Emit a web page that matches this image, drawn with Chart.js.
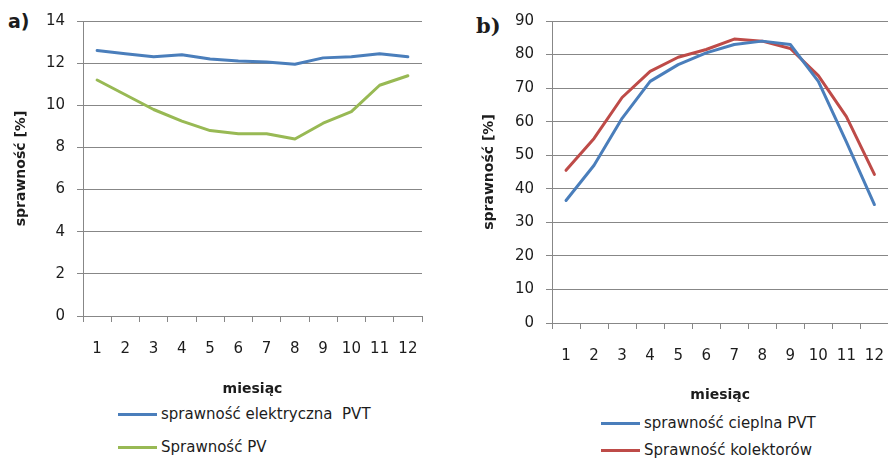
<!DOCTYPE html>
<html lang="pl">
<head>
<meta charset="utf-8">
<script src="https://cdn.jsdelivr.net/npm/chart.js@4.4.1/dist/chart.umd.min.js"></script>
<style>
  html, body { margin: 0; padding: 0; background: #fff; width: 888px; height: 460px; overflow: hidden; }
  body { position: relative; font-family: "DejaVu Sans", sans-serif; color: #1c1c1c; }
  canvas { position: absolute; top: 0; }
  #chartA { left: 0; }
  #chartB { left: 444px; }
  .panel { position: absolute; font-weight: bold; line-height: 1; }
  .leg { position: absolute; font-size: 15px; line-height: 18px; display: flex; align-items: center; white-space: pre; }
  .leg i { display: inline-block; width: 39px; height: 3px; margin-right: 4px; }
</style>
</head>
<body>
<div class="panel" style="left:8px;top:12px;font-size:19px;">a)</div>
<div class="panel" style="left:476px;top:15px;font-size:21px;font-family:'DejaVu Serif',serif;">b)</div>

<canvas id="chartA" width="444" height="398"></canvas>
<canvas id="chartB" width="458" height="404"></canvas>

<div class="leg" style="left:118px;top:405px;"><i style="background:#4a7ebb"></i>sprawność elektryczna  PVT</div>
<div class="leg" style="left:118px;top:438px;"><i style="background:#98b954"></i>Sprawność PV</div>
<div class="leg" style="left:601px;top:414px;"><i style="background:#4a7ebb"></i>sprawność cieplna PVT</div>
<div class="leg" style="left:601px;top:441px;"><i style="background:#be4b48"></i>Sprawność kolektorów</div>

<script>
// ==========================
//  Dane
// ==========================
const miesiace = ["1", "2", "3", "4", "5", "6", "7", "8", "9", "10", "11", "12"];

// a) sprawność elektryczna
const sprawnoscElektrycznaPVT = [12.6, 12.45, 12.3, 12.4, 12.2, 12.1, 12.05, 11.95, 12.25, 12.3, 12.45, 12.3];
const sprawnoscPV = [11.2, 10.5, 9.8, 9.25, 8.8, 8.65, 8.65, 8.4, 9.15, 9.7, 10.95, 11.4];
const osYA = [0, 14, 2]; // min, max, krok

// b) sprawność cieplna
const sprawnoscCieplnaPVT = [36.5, 47, 61, 72, 77, 80.5, 83, 84, 83, 72, 54, 35.3];
const sprawnoscKolektorow = [45.5, 55, 67.2, 75, 79.2, 81.5, 84.6, 84, 81.8, 73.7, 61.5, 44.3];
const osYB = [0, 90, 10];

const szary = "#878787";
const czcionka = "'DejaVu Sans', sans-serif";

// ==========================
//  Funkcja tworząca wykres
// ==========================
function rysujWykres(id, serie, os, geo) {
  const ctx = document.getElementById(id).getContext("2d");
  return new Chart(ctx, {
    type: "line",
    data: {
      labels: miesiace,
      datasets: serie.map((s) => ({
        label: s.nazwa,
        data: s.dane,
        borderColor: s.kolor,
        backgroundColor: s.kolor,
        borderWidth: 3,
        pointRadius: 0,
        tension: 0,
        borderJoinStyle: "round",
        borderCapStyle: "round",
      })),
    },
    options: {
      responsive: false,
      animation: false,
      layout: { padding: { top: geo.top, right: geo.right, left: 0, bottom: 0 } },
      plugins: { legend: { display: false }, tooltip: { enabled: false } },
      scales: {
        x: {
          offset: true,
          grid: { offset: true, drawOnChartArea: false, drawTicks: true, tickLength: 6, color: szary },
          border: { color: szary, width: 1 },
          ticks: { color: "#1c1c1c", padding: 18, maxRotation: 0, font: { family: czcionka, size: 15 } },
          title: {
            display: true,
            text: "miesiąc",
            color: "#1c1c1c",
            padding: { top: 0, bottom: 0 },
            font: { family: czcionka, size: 14, weight: "bold" },
          },
          afterFit: (scale) => { scale.height = geo.xHeight; },
        },
        y: {
          min: os[0],
          max: os[1],
          ticks: { stepSize: os[2], color: "#1c1c1c", padding: 12, font: { family: czcionka, size: 15 } },
          grid: { color: szary, lineWidth: 1, drawTicks: true, tickLength: 6 },
          border: { color: szary, width: 1 },
          title: {
            display: true,
            text: "sprawność [%]",
            color: "#1c1c1c",
            padding: { top: geo.yTitle, bottom: 0 },
            font: { family: czcionka, size: 14, weight: "bold" },
          },
          afterFit: (scale) => { scale.width = geo.yWidth; },
        },
      },
    },
  });
}

document.addEventListener("DOMContentLoaded", () => {
  rysujWykres(
    "chartA",
    [
      { nazwa: "sprawność elektryczna  PVT", dane: sprawnoscElektrycznaPVT, kolor: "#4a7ebb" },
      { nazwa: "Sprawność PV", dane: sprawnoscPV, kolor: "#98b954" },
    ],
    osYA,
    { top: 14, right: 22, xHeight: 82, yWidth: 83, yTitle: 13 }
  );

  rysujWykres(
    "chartB",
    [
      { nazwa: "sprawność cieplna PVT", dane: sprawnoscCieplnaPVT, kolor: "#4a7ebb" },
      { nazwa: "Sprawność kolektorów", dane: sprawnoscKolektorow, kolor: "#be4b48" },
    ],
    osYB,
    { top: 20, right: 1, xHeight: 81, yWidth: 108, yTitle: 37 }
  );
});
</script>
</body>
</html>
